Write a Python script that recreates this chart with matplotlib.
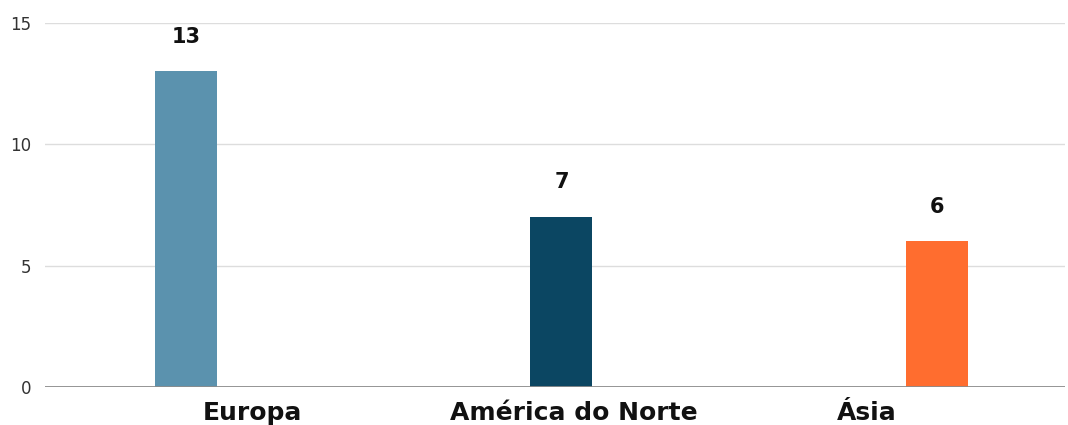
import matplotlib.pyplot as plt
import numpy as np

# dados
regioes = ['Europa', 'América do Norte', 'Ásia']
valores = [13, 7, 6]
cores = ['#5b92ae', '#0b4662', '#ff6d2f']
# deslocamento dos rotulos em relacao as barras (como no original)
desloc_rotulo = [0.178, 0.032, -0.186]

fig = plt.figure(figsize=(10.68, 4.25), dpi=100)
ax = fig.add_axes([0.042, 0.0894, 0.955, 0.8566])

x = np.arange(len(regioes))
barras = ax.bar(x, valores, width=0.165, color=cores, zorder=3)

# valores acima das barras
for xi, v in zip(x, valores):
    ax.annotate(str(v), (xi, v), xytext=(0, 25), textcoords='offset points',
                ha='center', va='center', fontsize=15, fontweight='bold',
                family='DejaVu Sans', color='#111111')

# rotulos das categorias
for xi, nome, d in zip(x, regioes, desloc_rotulo):
    ax.annotate(nome, (xi + d, 0), xytext=(0, -19), textcoords='offset points',
                ha='center', va='center', fontsize=18, fontweight='bold',
                family='DejaVu Sans', color='#111111', annotation_clip=False)

ax.set_xlim(-0.375, 2.34)
ax.set_ylim(0, 15)
ax.set_yticks([0, 5, 10, 15])
ax.set_xticks([])
ax.tick_params(axis='y', length=0, pad=10, labelsize=12, labelcolor='#333333')
ax.grid(axis='y', color='#dddddd', linewidth=1, zorder=0)
ax.axhline(0, color='#8c8c8c', linewidth=2, zorder=4)
for s in ax.spines.values():
    s.set_visible(False)

fig.savefig('out.png', dpi=100)
